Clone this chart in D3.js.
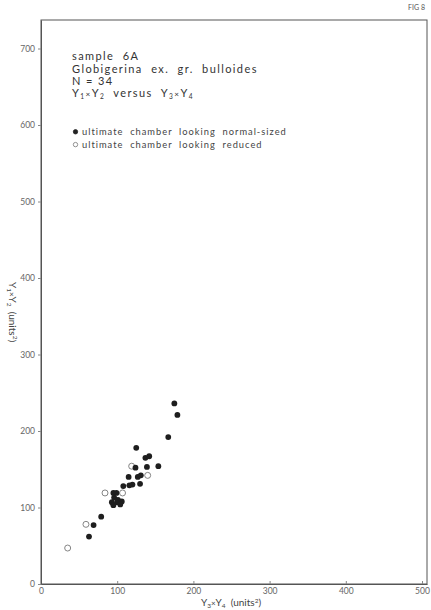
<!DOCTYPE html>
<html><head><meta charset="utf-8">
<script src="https://cdn.jsdelivr.net/npm/d3@7"></script>
<style>body{margin:0;background:#fff}svg{display:block}text{font-family:Lato,"Open Sans",sans-serif}</style>
</head><body>
<svg id="c" width="431" height="610"></svg>
<script>
// Data: [Y3*Y4, Y1*Y2]
const normalSized = [
  [175,236],[179,221],[167,192],[125,178],[137,165],[142,167],
  [124,152],[139,153],[154,154],[115,140],[127,140],[131,142],
  [130,131],[120,130],[116,129],[108,128],[95,119],[99,119],
  [96,113],[101,110],[93,107],[100,107],[106,108],[95,103],[104,104],
  [79,88],[69,77],[63,62]
];
const reduced = [[119,154],[140,142],[84,119],[107,119],[59,78],[35,47]];
const xTicks = [0,100,200,300,400,500];
const yTicks = [0,100,200,300,400,500,600,700];
const titleLines = ["sample  6A","Globigerina  ex.  gr.  bulloides","N = 34"];
const legendLabels = ["ultimate  chamber  looking  normal-sized","ultimate  chamber  looking  reduced"];

const svg = d3.select("#c");
const L=41,R=427,T=20,B=584;
const x = d3.scaleLinear().domain([0,(R-L)/0.762]).range([L,R]);
const y = d3.scaleLinear().domain([0,(B-T)/0.765]).range([B,T]);
const axisCol="#555";

// frame
svg.append("rect").attr("x",L).attr("y",T).attr("width",R-L).attr("height",B-T)
  .attr("fill","none").attr("stroke",axisCol).attr("stroke-width",1);

// x axis (ticks inward)
const xa = svg.append("g").attr("transform",`translate(0,${B})`)
  .call(d3.axisBottom(x).tickValues(xTicks).tickSizeInner(-3).tickSizeOuter(0).tickPadding(4));
xa.select(".domain").attr("stroke",axisCol);
xa.selectAll(".tick line").attr("stroke","#888");
xa.selectAll(".tick text").attr("font-size",8.5).attr("fill","#666").attr("font-family","Lato,sans-serif");

// y axis (ticks outward)
const ya = svg.append("g").attr("transform",`translate(${L},0)`)
  .call(d3.axisLeft(y).tickValues(yTicks).tickSize(3).tickSizeOuter(0).tickPadding(3));
ya.select(".domain").attr("stroke",axisCol);
ya.selectAll(".tick line").attr("stroke","#888");
ya.selectAll(".tick text").attr("font-size",8.5).attr("fill","#666").attr("font-family","Lato,sans-serif");

// axis labels
function prodLabel(sel,a,b,suffix){
  sel.append("tspan").text("Y");
  sel.append("tspan").text(a).attr("font-size","0.65em").attr("dy",2);
  sel.append("tspan").text("×").attr("font-size","0.8em").attr("dy",-2);
  sel.append("tspan").text("Y");
  sel.append("tspan").text(b).attr("font-size","0.65em").attr("dy",2);
  sel.append("tspan").text(suffix).attr("dy",-2);
  sel.append("tspan").text("2").attr("font-size","0.65em").attr("dy",-3.5);
  sel.append("tspan").text(")").attr("dy",3.5);
}
const xl = svg.append("text").attr("x",231).attr("y",606).attr("text-anchor","middle")
  .attr("font-size",10).attr("fill","#444").style("white-space","pre");
prodLabel(xl,"3","4","  (units");
const yl = svg.append("text").attr("transform","translate(9,312) rotate(90)").attr("text-anchor","middle")
  .attr("font-size",10).attr("fill","#444").style("white-space","pre");
prodLabel(yl,"1","2","  (units");

// FIG label
svg.append("text").attr("x",425).attr("y",10).attr("text-anchor","end")
  .attr("font-size",7).attr("fill","#555").text("FIG 8");

// title block
const tb = svg.append("g").attr("fill","#333").attr("font-size",11).attr("letter-spacing",1.4);
titleLines.forEach((t,i)=>{
  tb.append("text").attr("x",72).attr("y",60.3+i*12.35).style("white-space","pre").text(t);
});
const t4 = tb.append("text").attr("x",72).attr("y",60.3+3*12.35).style("white-space","pre");
t4.append("tspan").text("Y");
t4.append("tspan").text("1").attr("font-size","0.6em").attr("dy",2);
t4.append("tspan").text("×").attr("font-size","0.75em").attr("dy",-2);
t4.append("tspan").text("Y");
t4.append("tspan").text("2").attr("font-size","0.6em").attr("dy",2);
t4.append("tspan").text("  versus  Y").attr("dy",-2);
t4.append("tspan").text("3").attr("font-size","0.6em").attr("dy",2);
t4.append("tspan").text("×").attr("font-size","0.75em").attr("dy",-2);
t4.append("tspan").text("Y");
t4.append("tspan").text("4").attr("font-size","0.6em").attr("dy",2);

// legend
const lg = svg.append("g");
legendLabels.forEach((t,i)=>{
  const cy = 131.8+i*12.8;
  lg.append("circle").attr("cx",75.5).attr("cy",cy).attr("r",2.2)
    .attr("fill",i===0?"#222":"#fff").attr("stroke",i===0?"#222":"#777").attr("stroke-width",0.8);
  lg.append("text").attr("x",82).attr("y",cy+3).attr("font-size",9.3).attr("letter-spacing",1.0)
    .attr("fill","#444").style("white-space","pre").text(t);
});

// points
svg.append("g").selectAll("circle").data(reduced).join("circle")
  .attr("cx",d=>x(d[0])).attr("cy",d=>y(d[1])).attr("r",3)
  .attr("fill","#fff").attr("stroke","#777").attr("stroke-width",0.9);
svg.append("g").selectAll("circle").data(normalSized).join("circle")
  .attr("cx",d=>x(d[0])).attr("cy",d=>y(d[1])).attr("r",2.9)
  .attr("fill","#1e1e1e");
</script>
</body></html>
